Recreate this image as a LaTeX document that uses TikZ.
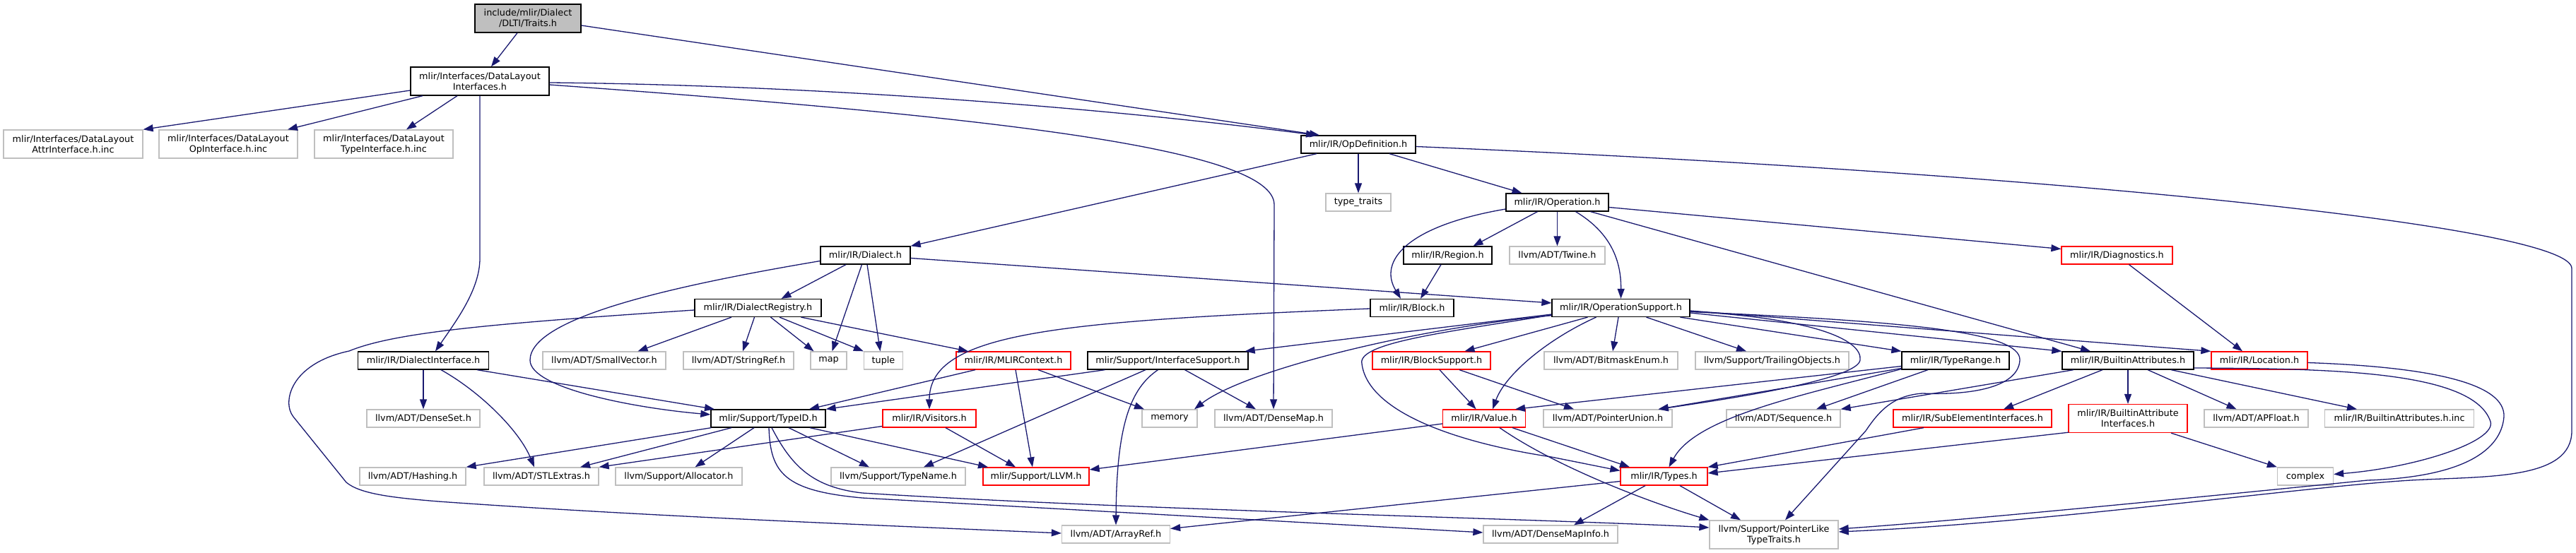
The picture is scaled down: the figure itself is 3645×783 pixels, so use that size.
\documentclass[tikz,border=0pt]{standalone}
\usepackage{fontspec}
\setmainfont{DejaVu Sans}
\usetikzlibrary{arrows.meta}
\definecolor{mblue}{HTML}{191970}
\definecolor{grayc}{HTML}{BFBFBF}
\definecolor{redc}{HTML}{FF0000}
\newcommand\dxfont{\fontsize{12.8}{15}\selectfont}
\tikzset{
  nd/.style={draw, rectangle, line width=1.3pt, inner sep=0pt, align=center, font=\dxfont, fill=white, minimum height=25pt},
  blk/.style={nd, draw=black},
  gry/.style={nd, draw=grayc},
  rd/.style={nd, draw=redc},
  root/.style={nd, draw=black, fill=grayc},
  tall/.style={minimum height=40pt},
  e/.style={draw=mblue, line width=1.3pt, -{Triangle[length=14pt,width=10pt]}},
}
\begin{document}
\begin{tikzpicture}[x=1pt,y=-1pt]
\useasboundingbox (0,0) rectangle (3645,783);
% nodes
\node[root,tall,minimum width=150pt] (traits) at (747,26) {include/mlir/Dialect\\/DLTI/Traits.h};
\node[blk,tall,minimum width=196pt] (dli) at (679,115) {mlir/Interfaces/DataLayout\\Interfaces.h};
\node[gry,tall,minimum width=197pt] (attrinc) at (103.5,204) {mlir/Interfaces/DataLayout\\AttrInterface.h.inc};
\node[gry,tall,minimum width=196pt] (opinc) at (323,204) {mlir/Interfaces/DataLayout\\OpInterface.h.inc};
\node[gry,tall,minimum width=196pt] (typeinc) at (543,204) {mlir/Interfaces/DataLayout\\TypeInterface.h.inc};
\node[blk,minimum width=162pt] (opdef) at (1922,204.5) {mlir/IR/OpDefinition.h};
\node[gry,minimum width=92pt] (typetraits) at (1922,286.5) {type\_traits};
\node[blk,minimum width=145pt] (operation) at (2203.5,286.5) {mlir/IR/Operation.h};
\node[blk,minimum width=125pt] (region) at (2048.5,361.5) {mlir/IR/Region.h};
\node[gry,minimum width=135pt] (twine) at (2203.5,361.5) {llvm/ADT/Twine.h};
\node[rd,minimum width=157pt] (diag) at (2995.5,361.5) {mlir/IR/Diagnostics.h};
\node[blk,minimum width=127pt] (dialect) at (1224.5,361.5) {mlir/IR/Dialect.h};
\node[blk,minimum width=179pt] (dreg) at (1072.5,436) {mlir/IR/DialectRegistry.h};
\node[blk,minimum width=185pt] (dintf) at (599,510.5) {mlir/IR/DialectInterface.h};
\node[gry,minimum width=160pt] (denseset) at (599,592.5) {llvm/ADT/DenseSet.h};
\node[gry,minimum width=150pt] (hashing) at (584,674.5) {llvm/ADT/Hashing.h};
\node[gry,minimum width=174pt] (smallvec) at (855,510.5) {llvm/ADT/SmallVector.h};
\node[gry,minimum width=156pt] (stringref) at (1045,510.5) {llvm/ADT/StringRef.h};
\node[gry,minimum width=51pt] (map) at (1172.5,510.5) {map};
\node[gry,minimum width=55pt] (tuple) at (1250,510.5) {tuple};
\node[rd,minimum width=162pt] (mlirctx) at (1434,510.5) {mlir/IR/MLIRContext.h};
\node[blk,minimum width=227pt] (ifsup) at (1652.5,510.5) {mlir/Support/InterfaceSupport.h};
\node[blk,minimum width=162pt] (typeid) at (1087,592.5) {mlir/Support/TypeID.h};
\node[rd,minimum width=132pt] (visitors) at (1315,592.5) {mlir/IR/Visitors.h};
\node[gry,minimum width=78pt] (memory) at (1655,592.5) {memory};
\node[gry,minimum width=166pt] (densemap) at (1802,592.5) {llvm/ADT/DenseMap.h};
\node[gry,minimum width=162pt] (stlextras) at (766,674.5) {llvm/ADT/STLExtras.h};
\node[gry,minimum width=179pt] (allocator) at (960.5,674.5) {llvm/Support/Allocator.h};
\node[gry,minimum width=190pt] (typename) at (1271,674.5) {llvm/Support/TypeName.h};
\node[rd,minimum width=150pt] (llvm) at (1466,674.5) {mlir/Support/LLVM.h};
\node[gry,minimum width=153pt] (arrayref) at (1579,756.5) {llvm/ADT/ArrayRef.h};
\node[blk,minimum width=118pt] (block) at (1998,436) {mlir/IR/Block.h};
\node[blk,minimum width=195pt] (opsup) at (2293.5,436) {mlir/IR/OperationSupport.h};
\node[rd,minimum width=167pt] (blocksup) at (2025.5,510.5) {mlir/IR/BlockSupport.h};
\node[gry,minimum width=189pt] (bitmask) at (2279.5,510.5) {llvm/ADT/BitmaskEnum.h};
\node[gry,minimum width=217pt] (trailing) at (2507.5,510.5) {llvm/Support/TrailingObjects.h};
\node[blk,minimum width=152pt] (typerange) at (2767,510.5) {mlir/IR/TypeRange.h};
\node[blk,minimum width=186pt] (battr) at (3011,510.5) {mlir/IR/BuiltinAttributes.h};
\node[rd,minimum width=136pt] (location) at (3197,510.5) {mlir/IR/Location.h};
\node[rd,minimum width=117pt] (value) at (2100,592.5) {mlir/IR/Value.h};
\node[gry,minimum width=182pt] (ptrunion) at (2275,592.5) {llvm/ADT/PointerUnion.h};
\node[gry,minimum width=161pt] (sequence) at (2523.5,592.5) {llvm/ADT/Sequence.h};
\node[rd,minimum width=224pt] (subelem) at (2791,592.5) {mlir/IR/SubElementInterfaces.h};
\node[rd,tall,minimum width=168pt] (bai) at (3011,592.5) {mlir/IR/BuiltinAttribute\\Interfaces.h};
\node[gry,minimum width=147pt] (apfloat) at (3192.5,592.5) {llvm/ADT/APFloat.h};
\node[gry,minimum width=211pt] (bainc) at (3395,592.5) {mlir/IR/BuiltinAttributes.h.inc};
\node[rd,minimum width=123pt] (types) at (2354.5,674.5) {mlir/IR/Types.h};
\node[gry,minimum width=79pt] (complex) at (3262,674.5) {complex};
\node[gry,minimum width=190pt] (dmi) at (2194,756.5) {llvm/ADT/DenseMapInfo.h};
\node[gry,tall,minimum width=182pt] (ptrlike) at (2510,757) {llvm/Support/PointerLike\\TypeTraits.h};
% edges
\draw[e] ([xshift=-15pt]traits.south) -- ([xshift=16pt]dli.north);
\draw[e] ([yshift=-10pt]traits.east) -- ([xshift=-55pt]opdef.north);
\draw[e] ([yshift=-2pt]dli.east) .. controls (1100,120) and (1500,145) .. ([xshift=-60pt]opdef.north);
\draw[e] ([yshift=-5pt]dli.east) .. controls (1400,165) and (1803,210) .. (1803,290) -- (densemap.north);
\draw[e] ([yshift=-13pt]dli.west) -- (attrinc.north east);
\draw[e] ([xshift=-81pt]dli.south) -- ([xshift=84pt]opinc.north);
\draw[e] ([xshift=-32pt]dli.south) -- ([xshift=32pt]typeinc.north);
\draw[e] (dli.south) -- (679,366) .. controls (679,410) and (645,455) .. ([xshift=17pt]dintf.north);
\draw[e] ([xshift=-59pt]opdef.south) -- (dialect.north east);
\draw[e] (opdef.south) -- (typetraits.north);
\draw[e] ([xshift=44pt]opdef.south) -- ([xshift=-50pt]operation.north);
\draw[e] ([yshift=-3pt]opdef.east) .. controls (2900,245) and (3639,320) .. (3639,380) -- (3639,610) .. controls (3639,680) and (3520,674) .. (3411,680) .. controls (3250,690) and (2900,740) .. ([yshift=4pt]ptrlike.east);
\draw[e] ([xshift=-28pt]operation.south) -- ([xshift=36pt]region.north);
\draw[e] (operation.south) -- (twine.north);
\draw[e] ([yshift=-7pt]operation.east) -- ([yshift=9pt]diag.west);
\draw[e] ([yshift=-9.5pt]operation.west) .. controls (1990,320) and (1950,370) .. ([xshift=-16pt]block.north);
\draw[e] ([xshift=26pt]operation.south) .. controls (2280,330) and (2294,370) .. (opsup.north);
\draw[e] ([xshift=47pt]operation.south) -- ([xshift=-53pt]battr.north);
\draw[e] ([xshift=-9.5pt]region.south) -- ([xshift=12pt]block.north);
\draw[e] ([xshift=17pt]diag.south) -- ([xshift=-24pt]location.north);
\draw[e] ([xshift=-27.5pt]dialect.south) -- ([xshift=33pt]dreg.north);
\draw[e] ([xshift=-5pt]dialect.south) -- ([xshift=5pt]map.north);
\draw[e] ([xshift=2.5pt]dialect.south) -- ([xshift=-4.5pt]tuple.north);
\draw[e] ([yshift=-8pt]dialect.west) .. controls (950,405) and (750,450) .. (750,510) .. controls (750,550) and (900,578) .. ([yshift=5.5pt]typeid.west);
\draw[e] ([yshift=-4pt]dialect.east) -- ([yshift=7pt]opsup.west);
\draw[e] ([xshift=-37.5pt]dreg.south) -- ([xshift=47.5pt]smallvec.north);
\draw[e] ([xshift=-5pt]dreg.south) -- ([xshift=6pt]stringref.north);
\draw[e] ([xshift=18pt]dreg.south) -- ([xshift=-21pt]map.north);
\draw[e] ([xshift=30.5pt]dreg.south) -- (tuple.north west);
\draw[e] ([xshift=61pt]dreg.south) -- ([xshift=-64pt]mlirctx.north);
\draw[e] ([yshift=-3pt]dreg.west) .. controls (700,458) and (560,470) .. (494,497) .. controls (410,515) and (399,570) .. (415,590) -- (490,683) .. controls (510,700) and (560,705) .. (620,710) .. controls (900,730) and (1200,742) .. ([yshift=1.5pt]arrayref.west);
\draw[e] (dintf.south) -- (denseset.north);
\draw[e] ([xshift=25pt]dintf.south) .. controls (680,555) and (735,610) .. ([xshift=-10pt]stlextras.north);
\draw[e] ([xshift=76pt]dintf.south) -- ([xshift=-76pt]typeid.north);
\draw[e] ([xshift=1pt]typeid.south west) -- (hashing.north east);
\draw[e] ([xshift=-52pt]typeid.south) -- ([xshift=55pt]stlextras.north);
\draw[e] ([xshift=-20pt]typeid.south) -- ([xshift=23pt]allocator.north);
\draw[e] ([xshift=29pt]typeid.south) -- ([xshift=-41pt]typename.north);
\draw[e] ([xshift=59pt]typeid.south) -- ([xshift=-68pt]llvm.north);
\draw[e] ([xshift=1pt]typeid.south) .. controls (1090,670) and (1110,695) .. (1220,705) -- ([yshift=2.5pt]dmi.west);
\draw[e] ([xshift=5pt]typeid.south) .. controls (1120,660) and (1150,690) .. (1220,698) .. controls (1600,722) and (2200,735) .. ([yshift=10pt]ptrlike.west);
\draw[e] ([xshift=-54pt]mlirctx.south) -- ([xshift=58pt]typeid.north);
\draw[e] ([xshift=3pt]mlirctx.south) -- ([xshift=-5pt]llvm.north);
\draw[e] ([xshift=35pt]mlirctx.south) -- ([xshift=-36pt]memory.north);
\draw[e] ([xshift=-89pt]ifsup.south) -- (typeid.north east);
\draw[e] ([xshift=-31.5pt]ifsup.south) -- ([xshift=36pt]typename.north);
\draw[e] ([xshift=-14pt]ifsup.south) .. controls (1600,550) and (1580,600) .. (arrayref.north);
\draw[e] ([xshift=24pt]ifsup.south) -- ([xshift=-25pt]densemap.north);
\draw[e] ([yshift=-11pt]visitors.west) -- (stlextras.north east);
\draw[e] ([xshift=23pt]visitors.south) -- ([xshift=-29pt]llvm.north);
\draw[e] ([yshift=-1pt]block.west) .. controls (1500,455) and (1315,470) .. (visitors.north);
\draw[e] ([yshift=-9pt]opsup.west) -- ([xshift=-5pt]ifsup.north east);
\draw[e] ([yshift=-10.7pt]opsup.west) .. controls (2000,465) and (1760,525) .. ([xshift=35pt]memory.north);
\draw[e] ([yshift=-10pt]opsup.west) .. controls (2050,470) and (1920,485) .. (1927,515) .. controls (1935,580) and (2050,625) .. (2195,647) -- ([yshift=8pt]types.west);
\draw[e] ([xshift=-47pt]opsup.south) -- ([xshift=47pt]blocksup.north);
\draw[e] ([xshift=-35pt]opsup.south) .. controls (2190,480) and (2130,530) .. ([xshift=12pt]value.north);
\draw[e] ([xshift=-3.5pt]opsup.south) -- ([xshift=2.5pt]bitmask.north);
\draw[e] ([xshift=36pt]opsup.south) -- ([xshift=-36.5pt]trailing.north);
\draw[e] ([xshift=84pt]opsup.south) -- (typerange.north west);
\draw[e] ([yshift=-7pt]opsup.east) -- (battr.north west);
\draw[e] ([yshift=-4pt]opsup.east) -- (location.north west);
\draw[e] ([yshift=-5pt]opsup.east) .. controls (2560,450) and (2636,480) .. (2632,510) .. controls (2628,535) and (2480,560) .. ([xshift=-20pt]ptrunion.north east);
\draw[e] ([yshift=-5.5pt]opsup.east) .. controls (2700,455) and (2860,470) .. (2858,510) .. controls (2856,545) and (2800,560) .. (2720,557) .. controls (2680,560) and (2660,580) .. (2640,610) -- ([xshift=16pt]ptrlike.north);
\draw[e] ([yshift=-8pt]typerange.west) -- ([xshift=44pt]value.north);
\draw[e] ([yshift=-11pt]typerange.west) -- ([xshift=-20pt]ptrunion.north east);
\draw[e] ([yshift=-12pt]typerange.west) .. controls (2550,560) and (2400,590) .. ([xshift=7pt]types.north);
\draw[e] ([xshift=-39pt]typerange.south) -- ([xshift=46.5pt]sequence.north);
\draw[e] ([xshift=11.5pt]blocksup.south) -- ([xshift=-11.4pt]value.north);
\draw[e] ([xshift=39.5pt]blocksup.south) -- ([xshift=-48pt]ptrunion.north);
\draw[e] ([yshift=-7.5pt]value.west) -- ([yshift=9.5pt]llvm.east);
\draw[e] ([xshift=40pt]value.south) -- ([xshift=-48.5pt]types.north);
\draw[e] ([xshift=22pt]value.south) .. controls (2200,660) and (2330,710) .. (ptrlike.north west);
\draw[e] ([xshift=22.5pt]types.south) -- ([xshift=-47pt]ptrlike.north);
\draw[e] ([xshift=-26.5pt]types.south) -- ([xshift=33pt]dmi.north);
\draw[e] ([yshift=-7pt]types.west) -- ([yshift=8pt]arrayref.east);
\draw[e] ([xshift=-77pt]battr.south) -- (sequence.north east);
\draw[e] ([xshift=-36pt]battr.south) -- ([xshift=44pt]subelem.north);
\draw[e] (battr.south) -- (bai.north);
\draw[e] ([xshift=28pt]battr.south) -- ([xshift=-28pt]apfloat.north);
\draw[e] ([xshift=61pt]battr.south) -- ([xshift=-60pt]bainc.north);
\draw[e] ([yshift=-10.5pt]battr.east) .. controls (3300,522) and (3500,525) .. (3524,597) .. controls (3532,625) and (3420,662) .. ([yshift=3pt]complex.east);
\draw[e] ([yshift=-3pt]location.east) .. controls (3450,520) and (3545,545) .. (3543,590) .. controls (3540,630) and (3500,675) .. (3350,680) .. controls (3150,700) and (2800,735) .. ([yshift=8pt]ptrlike.east);
\draw[e] ([xshift=-69pt]subelem.south) -- (types.north east);
\draw[e] ([xshift=1pt,yshift=1pt]bai.south west) -- ([yshift=4.5pt]types.east);
\draw[e] ([xshift=61pt]bai.south) -- (complex.north west);
\end{tikzpicture}
\end{document}
